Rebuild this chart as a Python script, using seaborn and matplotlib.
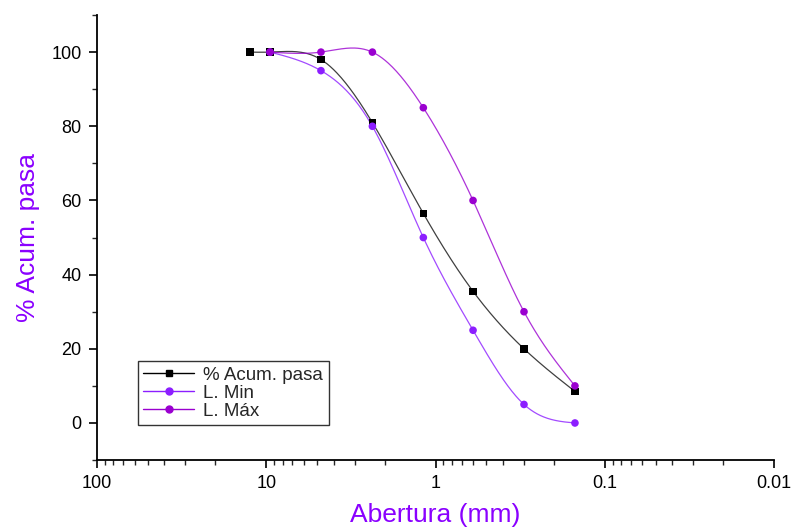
import numpy as np
import matplotlib
matplotlib.use("Agg")
import matplotlib.pyplot as plt
import seaborn as sns
from matplotlib.ticker import LogLocator, NullFormatter, MultipleLocator, FuncFormatter

# Sieve openings (mm) and cumulative passing (%)
aberturas = [12.5, 9.5, 4.75, 2.36, 1.18, 0.6, 0.3, 0.15]
acum_pasa = [100, 100, 98, 81, 56.5, 35.5, 20, 8.5]

aberturas_lim = [9.5, 4.75, 2.36, 1.18, 0.6, 0.3, 0.15]
lim_min = [100, 95, 80, 50, 25, 5, 0]
lim_max = [100, 100, 100, 85, 60, 30, 10]

C_MIN = "#8C1EFF"
C_MAX = "#9A00D0"
C_LABEL = "#8A00FF"


def natural_spline(x, y, n=300):
    """Natural cubic spline through (x, y); x must be increasing."""
    x = np.asarray(x, float)
    y = np.asarray(y, float)
    m = len(x)
    h = np.diff(x)
    A = np.zeros((m, m))
    b = np.zeros(m)
    A[0, 0] = A[-1, -1] = 1.0
    for i in range(1, m - 1):
        A[i, i - 1] = h[i - 1]
        A[i, i] = 2 * (h[i - 1] + h[i])
        A[i, i + 1] = h[i]
        b[i] = 3 * ((y[i + 1] - y[i]) / h[i] - (y[i] - y[i - 1]) / h[i - 1])
    c = np.linalg.solve(A, b)
    xs = np.linspace(x[0], x[-1], n)
    idx = np.clip(np.searchsorted(x, xs) - 1, 0, m - 2)
    dx = xs - x[idx]
    bb = (y[idx + 1] - y[idx]) / h[idx] - h[idx] * (2 * c[idx] + c[idx + 1]) / 3
    dd = (c[idx + 1] - c[idx]) / (3 * h[idx])
    ys = y[idx] + bb * dx + c[idx] * dx ** 2 + dd * dx ** 3
    return xs, ys


def smooth_log(xv, yv):
    lx = np.log10(np.asarray(xv, float))[::-1]
    ly = np.asarray(yv, float)[::-1]
    xs, ys = natural_spline(lx, ly)
    return 10 ** xs, ys


sns.set_theme(style="ticks")
plt.rcParams["font.family"] = ["Liberation Sans", "DejaVu Sans"]

fig = plt.figure(figsize=(7.95, 5.27), dpi=100)
ax = fig.add_axes([0.122, 0.127, 0.8516, 0.8445])

series = [
    (aberturas, acum_pasa, "% Acum. pasa", "black", "s"),
    (aberturas_lim, lim_min, "L. Min", C_MIN, "o"),
    (aberturas_lim, lim_max, "L. Máx", C_MAX, "o"),
]

for xv, yv, lab, col, mk in series:
    xs, ys = smooth_log(xv, yv)
    sns.lineplot(x=xs, y=ys, ax=ax, color=col, lw=0.9, sort=False,
                 estimator=None, alpha=0.8 if col != "black" else 0.75)
    sns.scatterplot(x=xv, y=yv, ax=ax, color=col, marker=mk, s=30,
                    edgecolor="none", zorder=3)
    # legend proxy
    ax.plot([], [], color=col, lw=1.0, marker=mk, ms=5, label=lab)

ax.set_xscale("log")
ax.set_xlim(100, 0.01)
ax.set_ylim(-10, 110)

ax.xaxis.set_major_locator(LogLocator(base=10, numticks=10))
ax.xaxis.set_minor_locator(LogLocator(base=10, subs=np.arange(2, 10), numticks=20))
ax.xaxis.set_minor_formatter(NullFormatter())
ax.xaxis.set_major_formatter(FuncFormatter(lambda v, p: f"{v:g}"))
ax.yaxis.set_major_locator(MultipleLocator(20))
ax.yaxis.set_minor_locator(MultipleLocator(10))

for side in ("top", "right"):
    ax.spines[side].set_visible(False)
for side in ("left", "bottom"):
    ax.spines[side].set_linewidth(1.3)
    ax.spines[side].set_color("black")

ax.tick_params(axis="both", which="major", direction="out", length=6, width=1.2,
               labelsize=13, colors="black", pad=5)
ax.tick_params(axis="both", which="minor", direction="out", length=3.5, width=1.0)

ax.set_xlabel("Abertura (mm)", fontsize=19, color=C_LABEL, labelpad=8)
ax.set_ylabel("% Acum. pasa", fontsize=19, color=C_LABEL, labelpad=8)

leg = ax.legend(loc="lower left", bbox_to_anchor=(0.06, 0.078), fontsize=13.5,
                frameon=True, fancybox=False, edgecolor="black", borderpad=0.3,
                handlelength=2.7, labelspacing=0.05, handletextpad=0.5,
                borderaxespad=0.0)
leg.get_frame().set_linewidth(1.0)

fig.savefig("out.png", dpi=100)
